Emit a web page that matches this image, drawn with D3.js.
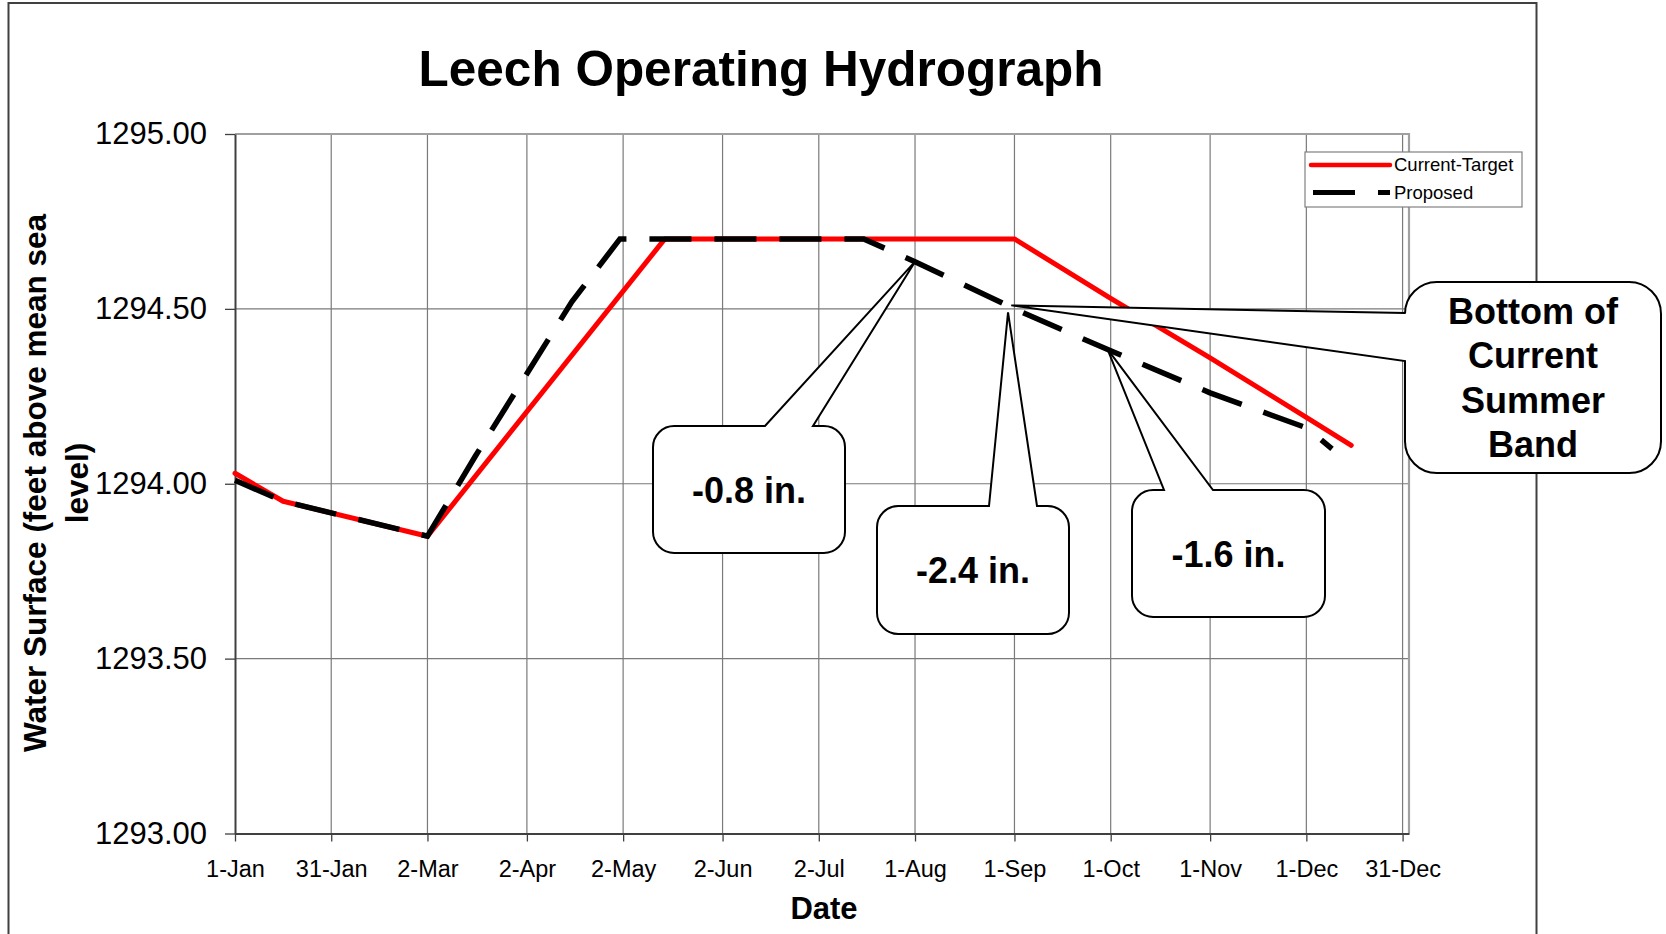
<!DOCTYPE html>
<html>
<head>
<meta charset="utf-8">
<script src="https://cdn.jsdelivr.net/npm/d3@7"></script>
<style>
  body { margin: 0; background: #fff; }
  text { font-family: "Liberation Sans", Arial, sans-serif; }
</style>
</head>
<body>
<script>
var svgWidth = 1666;
var svgHeight = 934;

var margin = { top: 134, right: 257, bottom: 100.5, left: 235 };

// Data read off the hydrograph (non-leap year, water surface in feet)
var currentDates = ["2007-01-01", "2007-01-16", "2007-03-02", "2007-05-15", "2007-09-01",
  "2007-10-01", "2007-11-01", "2007-12-01", "2007-12-15"];
var currentLevels = [1294.03, 1293.95, 1293.85, 1294.70, 1294.70,
  1294.53, 1294.36, 1294.19, 1294.11];

var proposedDates = ["2007-01-01", "2007-01-16", "2007-03-02", "2007-03-17", "2007-04-01",
  "2007-04-16", "2007-05-01", "2007-07-16", "2007-08-01", "2007-09-01",
  "2007-10-01", "2007-11-01", "2007-12-01", "2007-12-09"];
var proposedLevels = [1294.01, 1293.95, 1293.85, 1294.08, 1294.30,
  1294.52, 1294.70, 1294.70, 1294.635, 1294.50,
  1294.38, 1294.26, 1294.16, 1294.10];

var tickDates = ["2007-01-01", "2007-01-31", "2007-03-02", "2007-04-02", "2007-05-02",
  "2007-06-02", "2007-07-02", "2007-08-01", "2007-09-01", "2007-10-01",
  "2007-11-01", "2007-12-01", "2007-12-31"];
var levelTicks = [1293.0, 1293.5, 1294.0, 1294.5, 1295.0];

var seriesNames = ["Current-Target", "Proposed"];

// callouts: tip is in data units, box is page layout
var callouts = [
  { lines: ["-0.8 in."], tipDate: "2007-08-01", tipLevel: 1294.635,
    box: [653, 426, 845, 553], side: "top", base: [765, 813] },
  { lines: ["-2.4 in."], tipDate: "2007-08-30", tipLevel: 1294.49,
    box: [877, 506, 1069, 634], side: "top", base: [989, 1037] },
  { lines: ["-1.6 in."], tipDate: "2007-09-30", tipLevel: 1294.385,
    box: [1132, 490, 1325, 617], side: "top", base: [1164, 1213] },
  { lines: ["Bottom of", "Current", "Summer", "Band"], tipDate: "2007-08-31", tipLevel: 1294.51,
    box: [1405, 282, 1661, 473], side: "left", base: [313, 361] }
];

var parseDate = d3.utcParse("%Y-%m-%d");

var currentData = currentDates.map(function(d, i) {
  return { date: parseDate(d), level: currentLevels[i] };
});
var proposedData = proposedDates.map(function(d, i) {
  return { date: parseDate(d), level: proposedLevels[i] };
});

var svg = d3.select("body")
  .append("svg")
  .attr("width", svgWidth)
  .attr("height", svgHeight);

// chart outer border
svg.append("rect")
  .attr("x", 8.5)
  .attr("y", 3)
  .attr("width", 1528)
  .attr("height", 960)
  .attr("fill", "none")
  .attr("stroke", "#404040")
  .attr("stroke-width", 2);

var xScale = d3.scaleUtc()
  .domain([parseDate("2007-01-01"), parseDate("2008-01-02")])
  .range([margin.left, svgWidth - margin.right]);

var yScale = d3.scaleLinear()
  .domain([1293, 1295])
  .range([svgHeight - margin.bottom, margin.top]);

var plotTop = margin.top;
var plotBottom = svgHeight - margin.bottom;
var plotRight = svgWidth - margin.right;

// Gridlines
svg.append("g")
  .selectAll("line")
  .data(tickDates.slice(1))
  .enter()
  .append("line")
  .attr("x1", function(d) { return xScale(parseDate(d)); })
  .attr("x2", function(d) { return xScale(parseDate(d)); })
  .attr("y1", plotTop)
  .attr("y2", plotBottom)
  .attr("stroke", "#7a7a7a")
  .attr("stroke-width", 1.2);

svg.append("g")
  .selectAll("line")
  .data(levelTicks.slice(1, 4))
  .enter()
  .append("line")
  .attr("x1", margin.left)
  .attr("x2", plotRight)
  .attr("y1", function(d) { return yScale(d); })
  .attr("y2", function(d) { return yScale(d); })
  .attr("stroke", "#7a7a7a")
  .attr("stroke-width", 1.2);

// plot area border (top and right)
svg.append("path")
  .attr("d", "M" + margin.left + "," + yScale(1295) + "H" + plotRight + "V" + plotBottom)
  .attr("fill", "none")
  .attr("stroke", "#a0a0a0")
  .attr("stroke-width", 2.2);

// Axes
var bottomAxis = d3.axisBottom(xScale)
  .tickValues(tickDates.map(parseDate))
  .tickFormat(d3.utcFormat("%-d-%b"))
  .tickSize(8)
  .tickSizeOuter(0)
  .tickPadding(19);

var leftAxis = d3.axisLeft(yScale)
  .tickValues(levelTicks)
  .tickFormat(d3.format(".2f"))
  .tickSize(10)
  .tickSizeOuter(0)
  .tickPadding(18);

var xAxisG = svg.append("g")
  .attr("transform", "translate(0," + plotBottom + ")")
  .call(bottomAxis);
xAxisG.selectAll("text")
  .attr("font-size", 23.5)
  .attr("font-family", "Liberation Sans, Arial, sans-serif")
  .attr("fill", "#000");

var yAxisG = svg.append("g")
  .attr("transform", "translate(" + margin.left + ",0)")
  .call(leftAxis);
yAxisG.selectAll("text")
  .attr("font-size", 31)
  .attr("font-family", "Liberation Sans, Arial, sans-serif")
  .attr("fill", "#000");

svg.selectAll(".domain").attr("stroke", "#404040").attr("stroke-width", 2);
svg.selectAll(".tick line").attr("stroke", "#404040").attr("stroke-width", 1.3);

// Series
var line = d3.line()
  .x(function(d) { return xScale(d.date); })
  .y(function(d) { return yScale(d.level); });

svg.append("path")
  .datum(currentData)
  .attr("d", line)
  .attr("fill", "none")
  .attr("stroke", "#ff0000")
  .attr("stroke-width", 5)
  .attr("stroke-linejoin", "round")
  .attr("stroke-linecap", "round");

svg.append("path")
  .datum(proposedData)
  .attr("d", line)
  .attr("fill", "none")
  .attr("stroke", "#000")
  .attr("stroke-width", 5.5)
  .attr("stroke-dasharray", "42,23");

// Titles
svg.append("text")
  .attr("x", 761)
  .attr("y", 86)
  .attr("text-anchor", "middle")
  .attr("font-size", 49.5)
  .attr("font-weight", "bold")
  .text("Leech Operating Hydrograph");

svg.append("text")
  .attr("x", 824)
  .attr("y", 919)
  .attr("text-anchor", "middle")
  .attr("font-size", 31)
  .attr("font-weight", "bold")
  .text("Date");

var yTitle = svg.append("text")
  .attr("transform", "translate(46,483) rotate(-90)")
  .attr("text-anchor", "middle")
  .attr("font-size", 31.5)
  .attr("font-weight", "bold");
yTitle.append("tspan").attr("x", 0).attr("y", 0).text("Water Surface (feet above mean sea");
yTitle.append("tspan").attr("x", 0).attr("y", 42).text("level)");

// Legend
var legend = svg.append("g");
legend.append("rect")
  .attr("x", 1305)
  .attr("y", 152)
  .attr("width", 217)
  .attr("height", 55)
  .attr("fill", "#fff")
  .attr("stroke", "#808080")
  .attr("stroke-width", 1.2);

var legendRows = legend.selectAll("g.row")
  .data(seriesNames)
  .enter()
  .append("g")
  .attr("class", "row")
  .attr("transform", function(d, i) { return "translate(0," + (165 + i * 27.5) + ")"; });

legendRows.append("line")
  .attr("x1", function(d, i) { return i === 0 ? 1311 : 1313; })
  .attr("x2", 1390)
  .attr("y1", 0)
  .attr("y2", 0)
  .attr("stroke", function(d, i) { return i === 0 ? "#ff0000" : "#000"; })
  .attr("stroke-width", function(d, i) { return i === 0 ? 4.5 : 5; })
  .attr("stroke-linecap", function(d, i) { return i === 0 ? "round" : "butt"; })
  .attr("stroke-dasharray", function(d, i) { return i === 0 ? null : "42,23"; });

legendRows.append("text")
  .attr("x", 1394)
  .attr("y", 6)
  .attr("font-size", 18.5)
  .text(function(d) { return d; });

// Callouts
function calloutPath(c) {
  var x0 = c.box[0], y0 = c.box[1], x1 = c.box[2], y1 = c.box[3];
  var r = Math.min(x1 - x0, y1 - y0) / 6;
  var tx = xScale(parseDate(c.tipDate)), ty = yScale(c.tipLevel);
  var arc = function(x, y) { return "A" + r + "," + r + " 0 0 1 " + x + "," + y; };
  var p = "M" + (x0 + r) + "," + y0;
  if (c.side === "top") {
    p += "L" + c.base[0] + "," + y0 + "L" + tx + "," + ty + "L" + c.base[1] + "," + y0;
  }
  p += "L" + (x1 - r) + "," + y0 + arc(x1, y0 + r);
  p += "L" + x1 + "," + (y1 - r) + arc(x1 - r, y1);
  p += "L" + (x0 + r) + "," + y1 + arc(x0, y1 - r);
  if (c.side === "left") {
    p += "L" + x0 + "," + c.base[1] + "L" + tx + "," + ty + "L" + x0 + "," + c.base[0];
  }
  p += "L" + x0 + "," + (y0 + r) + arc(x0 + r, y0) + "Z";
  return p;
}

var calloutG = svg.selectAll("g.callout")
  .data(callouts)
  .enter()
  .append("g")
  .attr("class", "callout");

calloutG.append("path")
  .attr("d", calloutPath)
  .attr("fill", "#fff")
  .attr("stroke", "#000")
  .attr("stroke-width", 2)
  .attr("stroke-linejoin", "miter");

calloutG.each(function(c) {
  var cx = (c.box[0] + c.box[2]) / 2;
  var cy = (c.box[1] + c.box[3]) / 2;
  var lineH = 44.3;
  var n = c.lines.length;
  d3.select(this).selectAll("text")
    .data(c.lines)
    .enter()
    .append("text")
    .attr("x", cx)
    .attr("y", function(d, i) { return cy + (i - (n - 1) / 2) * lineH + 13; })
    .attr("text-anchor", "middle")
    .attr("font-size", 36)
    .attr("font-weight", "bold")
    .text(function(d) { return d; });
});
</script>
</body>
</html>
